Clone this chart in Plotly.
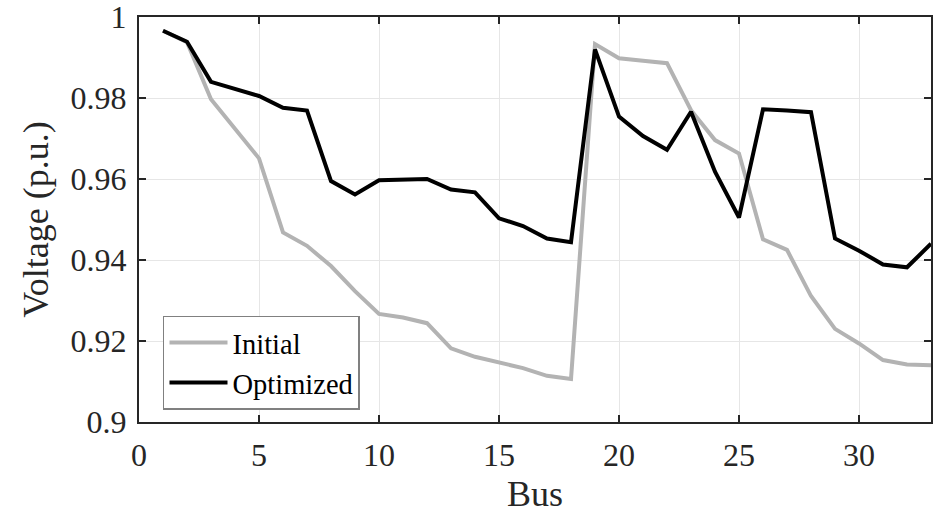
import plotly.graph_objects as go

bus = list(range(1, 34))
initial = [0.9966, 0.9938, 0.9797, 0.9725, 0.9651, 0.9468, 0.9435, 0.9385, 0.9323, 0.9267,
           0.9258, 0.9244, 0.9182, 0.9161, 0.9147, 0.9133, 0.9114, 0.9106, 0.9933, 0.9898,
           0.9892, 0.9886, 0.9770, 0.9696, 0.9663, 0.9451, 0.9425, 0.9311, 0.9230, 0.9194,
           0.9153, 0.9142, 0.9140]
optimized = [0.9966, 0.9939, 0.9840, 0.9822, 0.9805, 0.9776, 0.9769, 0.9595, 0.9562, 0.9597,
             0.9598, 0.9600, 0.9574, 0.9567, 0.9503, 0.9484, 0.9453, 0.9444, 0.9920, 0.9754,
             0.9706, 0.9672, 0.9766, 0.9618, 0.9505, 0.9772, 0.9769, 0.9765, 0.9453, 0.9423,
             0.9389, 0.9382, 0.9440]

x_ticks = [0, 5, 10, 15, 20, 25, 30]
y_ticks = [0.9, 0.92, 0.94, 0.96, 0.98, 1.0]
y_tick_labels = ["0.9", "0.92", "0.94", "0.96", "0.98", "1"]
x_title = "Bus"
y_title = "Voltage (p.u.)"

FONT = "Liberation Serif"
TXT = "#262626"

fig = go.Figure()
fig.add_trace(go.Scatter(x=bus, y=initial, mode="lines", name="Initial",
                         line=dict(color="#b3b3b3", width=4)))
fig.add_trace(go.Scatter(x=bus, y=optimized, mode="lines", name="Optimized",
                         line=dict(color="#000000", width=4)))

axis_common = dict(showline=True, linecolor=TXT, linewidth=2, mirror="allticks",
                   ticks="inside", ticklen=7, tickwidth=2, tickcolor=TXT,
                   showgrid=True, gridcolor="#e6e6e6", gridwidth=1, zeroline=False,
                   ticklabeloverflow="allow", automargin=False,
                   tickfont=dict(family=FONT, size=32, color=TXT))

fig.update_xaxes(range=[0, 33], tickvals=x_ticks, ticklabelstandoff=4, **axis_common)
fig.update_yaxes(range=[0.9, 1.0], tickvals=y_ticks, ticktext=y_tick_labels,
                 ticklabelstandoff=4,
                 title=dict(text=y_title, font=dict(family=FONT, size=36, color=TXT), standoff=11),
                 **axis_common)

fig.add_annotation(text=x_title, xref="paper", yref="paper", x=0.5, y=-0.233,
                   xanchor="center", yanchor="bottom", showarrow=False,
                   font=dict(family=FONT, size=36, color=TXT))

fig.update_layout(
    width=939, height=517,
    margin=dict(l=139, r=8, t=17, b=95),
    paper_bgcolor="white", plot_bgcolor="white",
    font=dict(family=FONT, color=TXT),
    legend=dict(x=0.0303, y=0.262, xanchor="left", yanchor="top",
                bgcolor="white", bordercolor="#808080", borderwidth=1.5,
                font=dict(family=FONT, size=28.5, color="#000000"),
                tracegroupgap=0, itemwidth=58),
    showlegend=True,
)

fig.write_html("out.html")
